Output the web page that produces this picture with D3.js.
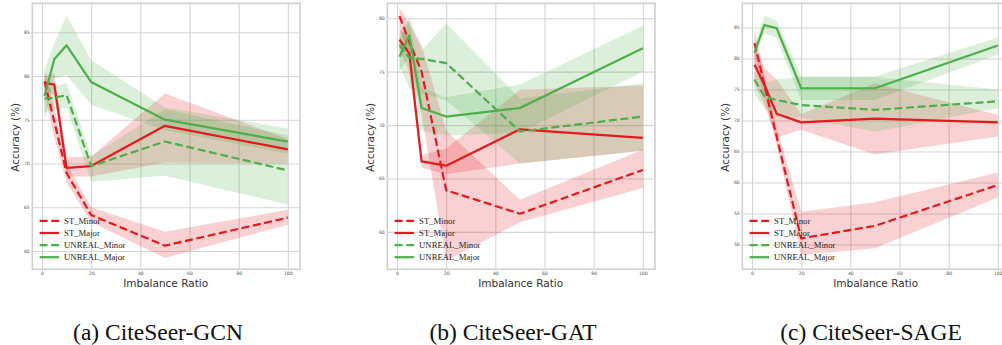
<!DOCTYPE html>
<html>
<head>
<meta charset="utf-8">
<script src="https://cdn.jsdelivr.net/npm/d3@7"></script>
<style>
  html, body { margin: 0; padding: 0; background: #fff; }
  svg { display: block; }
</style>
</head>
<body>
<svg id="chart" width="1002" height="345"></svg>
<script>
// imbalance ratios on the x axis
var ratios = [1, 5, 10, 20, 50, 100];
var seriesNames = ['ST_Minor', 'ST_Major', 'UNREAL_Minor', 'UNREAL_Major'];
var captions = ['(a) CiteSeer-GCN', '(b) CiteSeer-GAT', '(c) CiteSeer-SAGE'];
var xTicks = [0, 20, 40, 60, 80, 100];

// CiteSeer-GCN
var gcnStMinor = [79.4, 74.8, 68.9, 64.1, 60.6, 63.8];
var gcnStMinorLo = [78.0, 73.0, 67.8, 63.3, 59.2, 63.0];
var gcnStMinorHi = [80.8, 76.5, 70.0, 65.0, 62.2, 64.7];
var gcnStMajor = [79.2, 79.0, 69.5, 69.7, 74.3, 71.6];
var gcnStMajorLo = [78.5, 77.8, 68.5, 68.5, 70.1, 70.0];
var gcnStMajorHi = [80.0, 80.3, 70.7, 70.8, 78.0, 72.8];
var gcnUnMinor = [77.4, 77.5, 77.8, 69.7, 72.5, 69.2];
var gcnUnMinorLo = [75.8, 76.2, 76.4, 67.9, 68.6, 65.3];
var gcnUnMinorHi = [78.6, 78.8, 79.2, 70.8, 76.2, 73.2];
var gcnUnMajor = [77.7, 81.9, 83.5, 79.3, 75.0, 72.5];
var gcnUnMajorLo = [74.8, 79.7, 80.1, 76.7, 73.8, 71.1];
var gcnUnMajorHi = [80.7, 83.7, 86.9, 81.8, 76.4, 74.0];

// CiteSeer-GAT
var gatStMinor = [80.2, 77.8, 75.0, 63.9, 61.7, 65.8];
var gatStMinorLo = [79.0, 76.5, 71.0, 57.3, 60.9, 64.1];
var gatStMinorHi = [81.0, 79.5, 77.5, 69.5, 63.0, 67.7];
var gatStMajor = [78.0, 76.7, 66.6, 66.2, 69.6, 68.8];
var gatStMajorLo = [77.0, 75.0, 66.0, 65.4, 66.4, 67.6];
var gatStMajorHi = [79.0, 78.3, 67.2, 67.8, 73.3, 73.7];
var gatUnMinor = [77.5, 76.3, 76.2, 75.8, 69.4, 70.8];
var gatUnMinorLo = [75.5, 73.5, 73.0, 72.3, 66.4, 67.6];
var gatUnMinorHi = [78.5, 80.0, 77.0, 79.5, 72.5, 73.9];
var gatUnMajor = [76.4, 78.4, 71.6, 70.8, 71.6, 77.2];
var gatUnMajorLo = [75.0, 76.5, 69.5, 69.0, 69.3, 75.0];
var gatUnMajorHi = [78.0, 79.8, 73.5, 72.6, 73.8, 79.3];

// CiteSeer-SAGE
var sageStMinor = [82.5, 75.8, 67.4, 51.0, 53.0, 59.6];
var sageStMinorLo = [79.3, 74.0, 66.0, 48.3, 49.4, 57.6];
var sageStMinorHi = [84.6, 77.5, 69.0, 55.3, 56.8, 61.6];
var sageStMajor = [79.0, 75.8, 71.1, 69.7, 70.3, 69.7];
var sageStMajorLo = [76.0, 72.5, 67.2, 68.5, 64.5, 67.4];
var sageStMajorHi = [82.0, 78.5, 76.6, 71.0, 76.0, 70.9];
var sageUnMinor = [76.6, 73.9, 73.3, 72.5, 71.7, 73.1];
var sageUnMinorLo = [74.3, 72.0, 70.5, 70.5, 68.2, 72.0];
var sageUnMinorHi = [78.0, 76.0, 76.6, 77.0, 77.0, 75.0];
var sageUnMajor = [80.9, 85.4, 84.9, 75.2, 75.2, 82.1];
var sageUnMajorLo = [79.8, 84.1, 83.3, 73.3, 73.3, 80.6];
var sageUnMajorHi = [81.9, 86.9, 86.2, 77.1, 77.1, 83.4];

var yTicksGcn = [60, 65, 70, 75, 80, 85];
var yTicksGat = [60, 65, 70, 75, 80];
var yTicksSage = [50, 55, 60, 65, 70, 75, 80, 85];

var RED = '#e41a1c';
var GREEN = '#4daf4a';

function makeSeries(mean, lo, hi, color, dashed) {
  return {mean: mean, lo: lo, hi: hi, color: color, dashed: dashed};
}

var panels = [
  {
    caption: captions[0], yDomain: [57.9, 88.3], yTicks: yTicksGcn,
    series: [
      makeSeries(gcnStMinor, gcnStMinorLo, gcnStMinorHi, RED, true),
      makeSeries(gcnStMajor, gcnStMajorLo, gcnStMajorHi, RED, false),
      makeSeries(gcnUnMinor, gcnUnMinorLo, gcnUnMinorHi, GREEN, true),
      makeSeries(gcnUnMajor, gcnUnMajorLo, gcnUnMajorHi, GREEN, false)
    ]
  },
  {
    caption: captions[1], yDomain: [56.5, 81.4], yTicks: yTicksGat,
    series: [
      makeSeries(gatStMinor, gatStMinorLo, gatStMinorHi, RED, true),
      makeSeries(gatStMajor, gatStMajorLo, gatStMajorHi, RED, false),
      makeSeries(gatUnMinor, gatUnMinorLo, gatUnMinorHi, GREEN, true),
      makeSeries(gatUnMajor, gatUnMajorLo, gatUnMajorHi, GREEN, false)
    ]
  },
  {
    caption: captions[2], yDomain: [46.0, 88.9], yTicks: yTicksSage,
    series: [
      makeSeries(sageStMinor, sageStMinorLo, sageStMinorHi, RED, true),
      makeSeries(sageStMajor, sageStMajorLo, sageStMajorHi, RED, false),
      makeSeries(sageUnMinor, sageUnMinorLo, sageUnMinorHi, GREEN, true),
      makeSeries(sageUnMajor, sageUnMajorLo, sageUnMajorHi, GREEN, false)
    ]
  }
];

var svg = d3.select('#chart');
svg.append('rect').attr('width', 1002).attr('height', 345).attr('fill', '#fff');

var plotW = 267.7;
var plotH = 266;
var plotTop = 3.3;
var panelLeft = [32.3, 387.3, 742.3];
var captionX = [158, 513, 871];

function translate(x, y) {
  return 'translate(' + (x || 0) + ', ' + (y || 0) + ')';
}

panels.forEach(function(panel, p) {
  var g = svg.append('g').attr('transform', translate(panelLeft[p], plotTop));

  var x = d3.scaleLinear().domain([1 - 4.95, 100 + 4.95]).range([0, plotW]);
  var y = d3.scaleLinear().domain(panel.yDomain).range([plotH, 0]);

  // grid
  var xAxis = d3.axisBottom(x).tickValues(xTicks).tickSize(-plotH).tickPadding(2.6);
  var yAxis = d3.axisLeft(y).tickValues(panel.yTicks).tickSize(-plotW).tickPadding(2.5);

  var gx = g.append('g').attr('transform', translate(0, plotH)).call(xAxis);
  var gy = g.append('g').call(yAxis);

  [gx, gy].forEach(function(ax) {
    ax.select('.domain').remove();
    ax.selectAll('.tick line').attr('stroke', '#d4d4d4').attr('stroke-width', 1.1);
    ax.selectAll('.tick text')
      .attr('fill', '#555')
      .style('font-family', '"DejaVu Sans", sans-serif')
      .style('font-size', '4.6px');
  });

  // bands first, lines after (matplotlib zorder)
  var area = d3.area()
    .x(function(d) { return x(d.x); })
    .y0(function(d) { return y(d.lo); })
    .y1(function(d) { return y(d.hi); });

  var line = d3.line()
    .x(function(d) { return x(d.x); })
    .y(function(d) { return y(d.v); });

  panel.series.forEach(function(s) {
    var pts = ratios.map(function(r, i) { return {x: r, lo: s.lo[i], hi: s.hi[i]}; });
    g.append('path')
      .attr('d', area(pts))
      .attr('fill', s.color)
      .attr('fill-opacity', 0.2)
      .attr('stroke', 'none');
  });

  panel.series.forEach(function(s) {
    var pts = ratios.map(function(r, i) { return {x: r, v: s.mean[i]}; });
    g.append('path')
      .attr('d', line(pts))
      .attr('fill', 'none')
      .attr('stroke', s.color)
      .attr('stroke-width', 2.2)
      .attr('stroke-linejoin', 'round')
      .attr('stroke-dasharray', s.dashed ? '8,3.6' : null);
  });

  // frame
  g.append('rect')
    .attr('width', plotW).attr('height', plotH)
    .attr('fill', 'none')
    .attr('stroke', '#d0d0d0')
    .attr('stroke-width', 1.6);

  // legend, no box
  var legend = g.append('g').attr('transform', translate(7.3, 217.6));
  panel.series.forEach(function(s, i) {
    var row = legend.append('g').attr('transform', translate(0, i * 12.1));
    row.append('line')
      .attr('x1', 0).attr('x2', 19.5)
      .attr('stroke', s.color)
      .attr('stroke-width', 2.2)
      .attr('stroke-dasharray', s.dashed ? '8,3.6' : null);
    row.append('text')
      .attr('x', 24.5).attr('y', 2.9)
      .attr('fill', '#222')
      .style('font-family', '"Liberation Serif", "Times New Roman", serif')
      .style('font-size', '8.7px')
      .text(seriesNames[i]);
  });

  // axis labels
  g.append('text')
    .attr('x', plotW / 2 - 0.5).attr('y', 287 - plotTop)
    .attr('text-anchor', 'middle')
    .attr('fill', '#333')
    .style('font-family', '"DejaVu Sans", sans-serif')
    .style('font-size', '10.5px')
    .text('Imbalance Ratio');

  g.append('text')
    .attr('transform', translate(-13, plotH / 2 + 1) + ' rotate(-90)')
    .attr('text-anchor', 'middle')
    .attr('fill', '#333')
    .style('font-family', '"DejaVu Sans", sans-serif')
    .style('font-size', '10.4px')
    .text('Accuracy (%)');

  svg.append('text')
    .attr('x', captionX[p]).attr('y', 339.5)
    .attr('text-anchor', 'middle')
    .attr('fill', '#111')
    .style('font-family', '"Liberation Serif", "Times New Roman", serif')
    .style('font-size', '23.5px')
    .text(panel.caption);
});
</script>
</body>
</html>
